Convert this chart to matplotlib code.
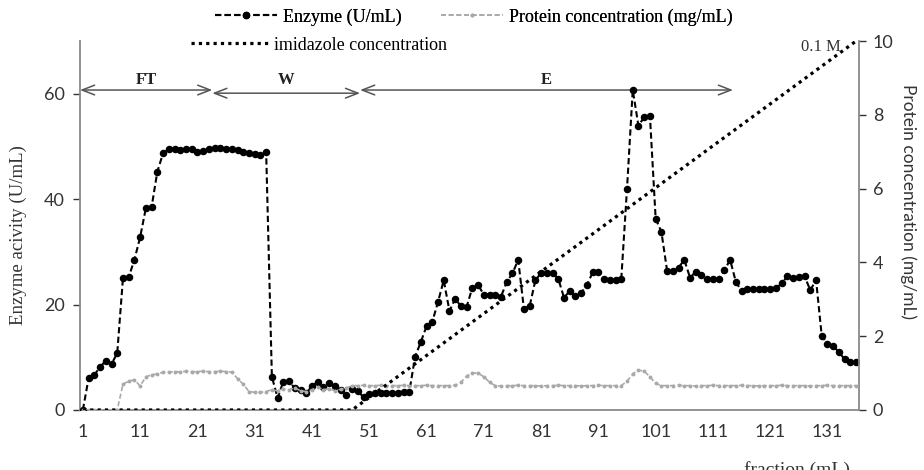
import matplotlib
matplotlib.use("Agg")
import matplotlib.pyplot as plt

# ---------------- data ----------------
fractions = list(range(1, 137))
enzyme = [
    0.0, 6.0, 6.6, 8.2, 9.3, 8.7, 10.8, 25.0, 25.2, 28.5,
    32.8, 38.3, 38.5, 45.2, 48.7, 49.5, 49.6, 49.4, 49.6, 49.5,
    49.0, 49.2, 49.5, 49.7, 49.7, 49.6, 49.5, 49.3, 49.0, 48.8,
    48.5, 48.3, 48.9, 6.3, 2.3, 5.4, 5.5, 4.1, 3.8, 3.2,
    4.5, 5.4, 4.3, 5.2, 4.5, 3.8, 2.8, 3.9, 3.6, 2.4,
    3.0, 3.2, 3.3, 3.3, 3.3, 3.3, 3.4, 3.5, 10.1, 12.9,
    15.9, 16.7, 20.5, 24.6, 18.8, 21.1, 19.7, 19.6, 23.2, 23.7,
    21.9, 21.9, 21.9, 21.5, 24.3, 25.9, 28.5, 19.2, 19.7, 24.6,
    26.0, 26.0, 26.0, 24.9, 21.3, 22.6, 21.6, 22.2, 23.7, 26.1,
    26.2, 24.9, 24.6, 24.7, 24.9, 42.0, 60.7, 53.9, 55.6, 55.8,
    36.3, 33.8, 26.4, 26.4, 27.0, 28.5, 25.1, 26.2, 25.7, 24.9,
    24.8, 24.9, 26.5, 28.5, 24.3, 22.6, 23.0, 23.0, 23.0, 23.0,
    23.0, 23.1, 24.0, 25.4, 25.0, 25.3, 25.4, 22.7, 24.7, 14.0,
    12.6, 12.1, 11.0, 9.6, 9.1, 9.1,
]
protein = [
    0.0, 0.0, 0.0, 0.0, 0.0, 0.0, 0.0, 0.70, 0.78, 0.82,
    0.65, 0.90, 0.95, 0.98, 1.02, 1.03, 1.04, 1.03, 1.05, 1.04,
    1.04, 1.05, 1.04, 1.04, 1.05, 1.04, 1.03, 0.85, 0.70, 0.50,
    0.48, 0.48, 0.50, 0.55, 0.52, 0.58, 0.55, 0.60, 0.52, 0.50,
    0.55, 0.62, 0.55, 0.58, 0.52, 0.56, 0.60, 0.66, 0.66, 0.67,
    0.66, 0.66, 0.67, 0.66, 0.66, 0.66, 0.67, 0.66, 0.66, 0.66,
    0.67, 0.66, 0.66, 0.66, 0.66, 0.67, 0.75, 0.92, 1.00, 1.00,
    0.90, 0.75, 0.66, 0.65, 0.66, 0.66, 0.67, 0.66, 0.66, 0.66,
    0.65, 0.66, 0.66, 0.67, 0.66, 0.66, 0.66, 0.65, 0.66, 0.66,
    0.67, 0.66, 0.66, 0.66, 0.66, 0.78, 0.98, 1.08, 1.05, 0.90,
    0.72, 0.66, 0.66, 0.66, 0.67, 0.66, 0.66, 0.65, 0.66, 0.66,
    0.67, 0.66, 0.66, 0.66, 0.66, 0.67, 0.66, 0.66, 0.65, 0.66,
    0.66, 0.66, 0.67, 0.66, 0.66, 0.66, 0.66, 0.65, 0.66, 0.66,
    0.67, 0.66, 0.66, 0.66, 0.66, 0.66,
]
imid_x = [1, 48, 136]
imid_M = [0.0, 0.0, 0.1]

xtick_vals = [1, 11, 21, 31, 41, 51, 61, 71, 81, 91, 101, 111, 121, 131]
left_ticks = [0, 20, 40, 60]
right_ticks = [0, 2, 4, 6, 8, 10]

phases = [("FT", 0.5, 23.6, 60.7), ("W", 23.6, 49.4, 60.1), ("E", 49.4, 114.5, 60.7)]

# ---------------- figure ----------------
SERIF = ["Liberation Serif", "DejaVu Serif"]
SANS = ["Lato", "DejaVu Sans"]

fig = plt.figure(figsize=(9.24, 4.70), dpi=100)
ax = fig.add_axes([80 / 924, 1 - 410 / 470, (859 - 80) / 924, (410 - 41) / 470])
ax2 = ax.twinx()
ax3 = ax.twinx()

spine_col = "#8a8a8a"
txt_col = "#333333"

enz_line, = ax.plot(fractions, enzyme, color="black", linestyle=(0, (3, 1.6)), lw=1.5,
                    marker="o", markersize=4.4, zorder=5)
prot_line, = ax2.plot(fractions, protein, color="#a9a9a9", linestyle=(0, (3, 1.6)), lw=1.2,
                      marker="o", markersize=1.8, zorder=4)
imid_line, = ax3.plot(imid_x, imid_M, color="black", linestyle=(0, (1, 1.3)), lw=2.3,
                      zorder=3)

ax.set_xlim(0.5, 136.5)
ax.set_ylim(0, 70)
ax2.set_ylim(0, 10)
ax3.set_ylim(0, 0.1)
ax3.axis("off")

ax.set_xticks(xtick_vals)
ax.set_xticklabels([str(v) for v in xtick_vals], fontfamily=SANS, fontsize=13)
ax.set_yticks(left_ticks)
ax.set_yticklabels([str(v) for v in left_ticks], fontfamily=SANS, fontsize=13)
ax2.set_yticks(right_ticks)
ax2.set_yticklabels([str(v) for v in right_ticks], fontfamily=SANS, fontsize=13)

ax.tick_params(axis="x", length=0, pad=10, colors=txt_col)
ax.tick_params(axis="y", length=5, width=1, colors=txt_col, pad=6)
ax2.tick_params(axis="y", length=5, width=1, colors=txt_col, pad=5)
for a in (ax, ax2):
    for t in a.yaxis.get_ticklines():
        t.set_color(spine_col)

for a in (ax, ax2):
    a.spines["top"].set_visible(False)
    for s in ("left", "right", "bottom"):
        a.spines[s].set_color(spine_col)
        a.spines[s].set_linewidth(1.3)
ax.spines["right"].set_visible(False)
ax2.spines["left"].set_visible(False)
ax2.spines["bottom"].set_visible(False)

ax.set_ylabel("Enzyme acivity (U/mL)", fontfamily=SERIF, fontsize=13.5, color=txt_col,
              va="center")
ax.yaxis.set_label_coords(-0.0796, 0.474)
ax2.set_ylabel("Protein concentration (mg/mL)", fontfamily=SANS, fontsize=12.5,
               color=txt_col, rotation=270, va="center")
ax2.yaxis.set_label_coords(1.063, 0.566)

# phase arrows
for lab, x0, x1, y in phases:
    ax.annotate("", xy=(x0, y), xytext=(x1, y),
                arrowprops=dict(arrowstyle="<->,head_length=0.9,head_width=0.35",
                                color="#555555", lw=1.1, shrinkA=0, shrinkB=0))
    ax.text((x0 + x1) / 2, 62.6, lab, ha="center", va="center", fontfamily=SERIF,
            fontsize=12, fontweight="bold", color="#222222")

ax3.text(133.3, 0.0985, "0.1 M", ha="right", va="center", fontfamily=SERIF,
         fontsize=12, color=txt_col)

# legends
leg1 = fig.legend([enz_line, prot_line], ["Enzyme (U/mL)", "Protein concentration (mg/mL)"],
                  loc="center", bbox_to_anchor=(474 / 924, 1 - 17 / 470), ncol=2,
                  frameon=False, prop={"family": SERIF, "size": 13}, handlelength=3.4,
                  handletextpad=0.35, columnspacing=2.2, borderpad=0, borderaxespad=0)
leg2 = fig.legend([imid_line], ["imidazole concentration"], loc="center",
                  bbox_to_anchor=(319 / 924, 1 - 45 / 470), frameon=False,
                  prop={"family": SERIF, "size": 13}, handlelength=4.4,
                  handletextpad=0.15, borderpad=0, borderaxespad=0)
fig.add_artist(leg1)

# x-axis title (cut at the bottom edge in the original)
fig.text(797 / 924, 1 - 461 / 470, "fraction (mL)", ha="center", va="top",
         fontfamily=SERIF, fontsize=14, color=txt_col)

fig.savefig("out.png", dpi=100, facecolor="white")
